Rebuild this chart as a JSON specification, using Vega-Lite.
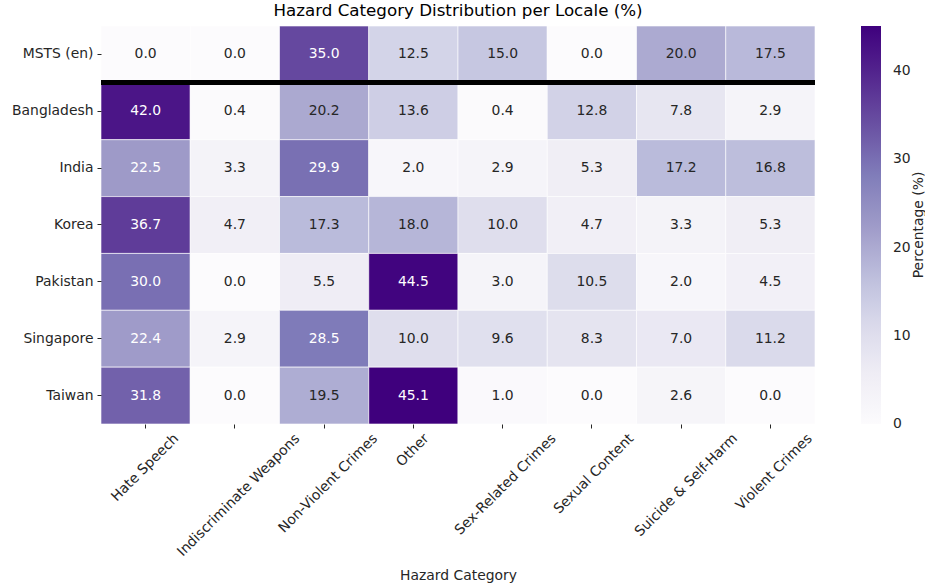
{
  "$schema": "https://vega.github.io/schema/vega-lite/v6.json",
  "autosize": {"type": "none"},
  "padding": {"left": 101, "top": 26, "right": 110, "bottom": 164},
  "width": 714,
  "height": 398,
  "background": "white",
  "config": {"view": {"stroke": null}, "font": "DejaVu Sans"},
  "title": {"text": "Hazard Category Distribution per Locale (%)", "fontSize": 16.7, "fontWeight": "normal", "color": "#000000", "offset": 6, "font": "DejaVu Sans"},
  "data": {"values": [
    {"locale": "MSTS (en)", "category": "Hate Speech", "pct": 0.0},
    {"locale": "MSTS (en)", "category": "Indiscriminate Weapons", "pct": 0.0},
    {"locale": "MSTS (en)", "category": "Non-Violent Crimes", "pct": 35.0},
    {"locale": "MSTS (en)", "category": "Other", "pct": 12.5},
    {"locale": "MSTS (en)", "category": "Sex-Related Crimes", "pct": 15.0},
    {"locale": "MSTS (en)", "category": "Sexual Content", "pct": 0.0},
    {"locale": "MSTS (en)", "category": "Suicide & Self-Harm", "pct": 20.0},
    {"locale": "MSTS (en)", "category": "Violent Crimes", "pct": 17.5},
    {"locale": "Bangladesh", "category": "Hate Speech", "pct": 42.0},
    {"locale": "Bangladesh", "category": "Indiscriminate Weapons", "pct": 0.4},
    {"locale": "Bangladesh", "category": "Non-Violent Crimes", "pct": 20.2},
    {"locale": "Bangladesh", "category": "Other", "pct": 13.6},
    {"locale": "Bangladesh", "category": "Sex-Related Crimes", "pct": 0.4},
    {"locale": "Bangladesh", "category": "Sexual Content", "pct": 12.8},
    {"locale": "Bangladesh", "category": "Suicide & Self-Harm", "pct": 7.8},
    {"locale": "Bangladesh", "category": "Violent Crimes", "pct": 2.9},
    {"locale": "India", "category": "Hate Speech", "pct": 22.5},
    {"locale": "India", "category": "Indiscriminate Weapons", "pct": 3.3},
    {"locale": "India", "category": "Non-Violent Crimes", "pct": 29.9},
    {"locale": "India", "category": "Other", "pct": 2.0},
    {"locale": "India", "category": "Sex-Related Crimes", "pct": 2.9},
    {"locale": "India", "category": "Sexual Content", "pct": 5.3},
    {"locale": "India", "category": "Suicide & Self-Harm", "pct": 17.2},
    {"locale": "India", "category": "Violent Crimes", "pct": 16.8},
    {"locale": "Korea", "category": "Hate Speech", "pct": 36.7},
    {"locale": "Korea", "category": "Indiscriminate Weapons", "pct": 4.7},
    {"locale": "Korea", "category": "Non-Violent Crimes", "pct": 17.3},
    {"locale": "Korea", "category": "Other", "pct": 18.0},
    {"locale": "Korea", "category": "Sex-Related Crimes", "pct": 10.0},
    {"locale": "Korea", "category": "Sexual Content", "pct": 4.7},
    {"locale": "Korea", "category": "Suicide & Self-Harm", "pct": 3.3},
    {"locale": "Korea", "category": "Violent Crimes", "pct": 5.3},
    {"locale": "Pakistan", "category": "Hate Speech", "pct": 30.0},
    {"locale": "Pakistan", "category": "Indiscriminate Weapons", "pct": 0.0},
    {"locale": "Pakistan", "category": "Non-Violent Crimes", "pct": 5.5},
    {"locale": "Pakistan", "category": "Other", "pct": 44.5},
    {"locale": "Pakistan", "category": "Sex-Related Crimes", "pct": 3.0},
    {"locale": "Pakistan", "category": "Sexual Content", "pct": 10.5},
    {"locale": "Pakistan", "category": "Suicide & Self-Harm", "pct": 2.0},
    {"locale": "Pakistan", "category": "Violent Crimes", "pct": 4.5},
    {"locale": "Singapore", "category": "Hate Speech", "pct": 22.4},
    {"locale": "Singapore", "category": "Indiscriminate Weapons", "pct": 2.9},
    {"locale": "Singapore", "category": "Non-Violent Crimes", "pct": 28.5},
    {"locale": "Singapore", "category": "Other", "pct": 10.0},
    {"locale": "Singapore", "category": "Sex-Related Crimes", "pct": 9.6},
    {"locale": "Singapore", "category": "Sexual Content", "pct": 8.3},
    {"locale": "Singapore", "category": "Suicide & Self-Harm", "pct": 7.0},
    {"locale": "Singapore", "category": "Violent Crimes", "pct": 11.2},
    {"locale": "Taiwan", "category": "Hate Speech", "pct": 31.8},
    {"locale": "Taiwan", "category": "Indiscriminate Weapons", "pct": 0.0},
    {"locale": "Taiwan", "category": "Non-Violent Crimes", "pct": 19.5},
    {"locale": "Taiwan", "category": "Other", "pct": 45.1},
    {"locale": "Taiwan", "category": "Sex-Related Crimes", "pct": 1.0},
    {"locale": "Taiwan", "category": "Sexual Content", "pct": 0.0},
    {"locale": "Taiwan", "category": "Suicide & Self-Harm", "pct": 2.6},
    {"locale": "Taiwan", "category": "Violent Crimes", "pct": 0.0}
  ]},
  "encoding": {
    "x": {"field": "category", "type": "nominal", "sort": null,
      "scale": {"paddingInner": 0, "paddingOuter": 0},
      "axis": {"title": "Hazard Category", "titleFontSize": 13.9, "titleFontWeight": "normal", "titleColor": "#262626", "titleFont": "DejaVu Sans",
        "titleY": 151, "titleBaseline": "middle",
        "labelAngle": -45, "labelAlign": "right", "labelBaseline": "top", "labelFontSize": 13.9, "labelColor": "#262626", "labelFont": "DejaVu Sans",
        "labelOffset": {"expr": "length(datum.label) * 2.9 - 6"},
        "labelPadding": 3, "labelLimit": 400, "labelOverlap": false,
        "domain": false, "ticks": true, "tickSize": 4, "tickColor": "#262626", "tickWidth": 1}},
    "y": {"field": "locale", "type": "nominal", "sort": null,
      "scale": {"paddingInner": 0, "paddingOuter": 0},
      "axis": {"title": null, "labelFontSize": 13.9, "labelColor": "#262626", "labelFont": "DejaVu Sans", "labelPadding": 4,
        "domain": false, "ticks": true, "tickSize": 4, "tickColor": "#262626", "tickWidth": 1}}
  },
  "layer": [
    {"mark": {"type": "rect", "stroke": "white", "strokeWidth": 0.6},
     "encoding": {"color": {"field": "pct", "type": "quantitative",
        "scale": {"domain": [0, 45.1], "range": ["#fcfbfd", "#efedf5", "#dadaeb", "#bcbddc", "#9e9ac8", "#807dba", "#6a51a3", "#54278f", "#3f007d"], "interpolate": "rgb"},
        "legend": {"title": "Percentage (%)", "orient": "none", "legendX": 760, "legendY": 0,
          "gradientLength": 398, "gradientThickness": 20, "gradientStrokeWidth": 0,
          "values": [0, 10, 20, 30, 40], "labelFontSize": 13.9, "labelColor": "#262626", "labelFont": "DejaVu Sans", "labelOffset": 12,
          "titleOrient": "right", "titleFontSize": 13.9, "titleFontWeight": "normal", "titleColor": "#262626", "titleFont": "DejaVu Sans",
          "titleAnchor": "middle", "titleBaseline": "top", "titlePadding": 1,
          "encode": {"title": {"update": {"angle": {"value": -90}}},
                     "labels": {"update": {"baseline": {"value": "middle"}}}}}}}},
    {"mark": {"type": "text", "fontSize": 13.9, "font": "DejaVu Sans"},
     "encoding": {"text": {"field": "pct", "type": "quantitative", "format": ".1f"},
       "color": {"condition": {"test": "datum.pct > 21", "value": "#ffffff"}, "value": "#262626"}}},
    {"mark": {"type": "rule", "color": "black", "strokeWidth": 4},
     "encoding": {"y": {"datum": "Bangladesh", "bandPosition": 0}, "x": {"value": 0}, "x2": {"value": 714}}}
  ]
}
